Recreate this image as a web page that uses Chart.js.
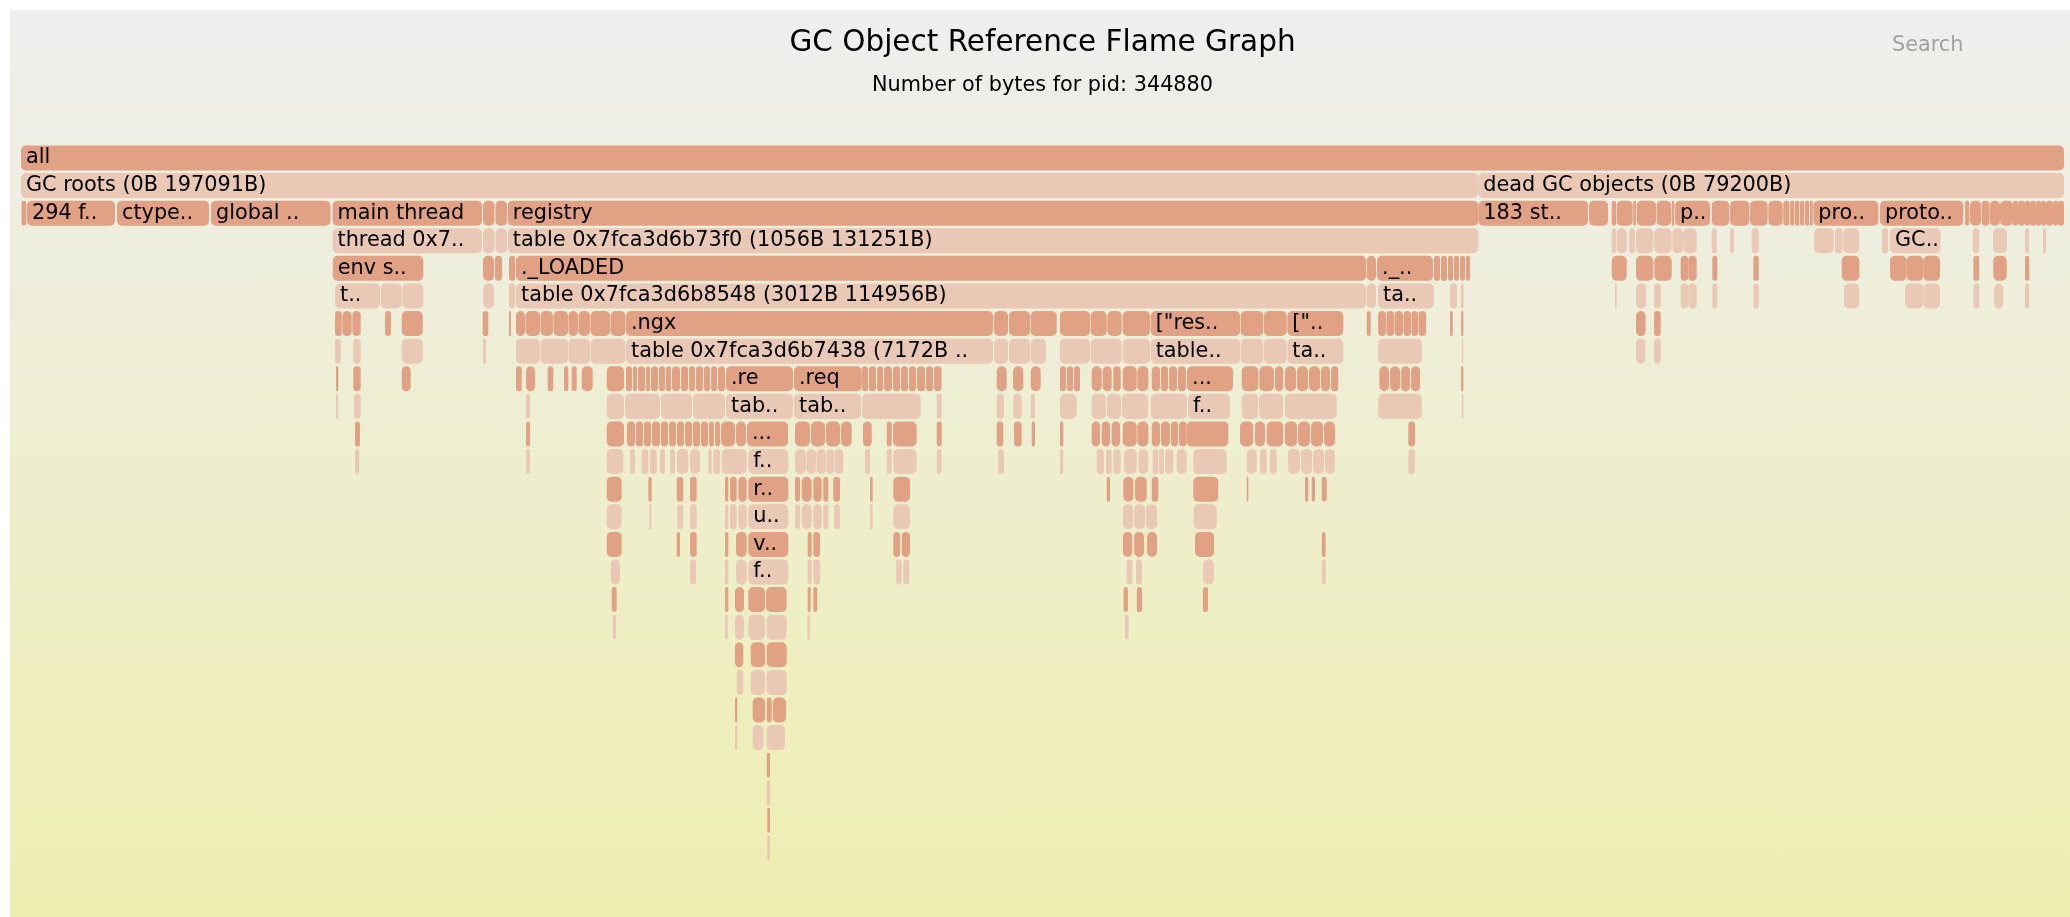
<!DOCTYPE html>
<html>
<head>
<meta charset="utf-8">
<title>GC Object Reference Flame Graph</title>
<script src="https://cdn.jsdelivr.net/npm/chart.js@4.4.1/dist/chart.umd.min.js"></script>
<style>
  html, body { margin: 0; padding: 0; background: #ffffff; overflow: hidden; }
  #bg { position: absolute; left: 10px; top: 10px; width: 2060px; height: 907px;
        background: linear-gradient(#eeeeee, #eeeeb0); }
  #flame { position: absolute; left: 0; top: 0; }
  #search { position: absolute; left: 1892px; top: 32px; line-height: 24px;
            font-family: "DejaVu Sans", Verdana, sans-serif; font-size: 20.8px; color: #a0a0a0; }
</style>
</head>
<body>
<div id="bg"></div>
<canvas id="flame" width="2070" height="917"></canvas>
<div id="search">Search</div>
<script>
// Flame graph data: one array per depth, each frame is [startByte, endByte, label]
const TOTAL_BYTES = 276291;

const level0 = [[0, 276291, 'all']];
const level1 = [[0, 197091, 'GC roots (0B 197091B)'], [197091, 276291, 'dead GC objects (0B 79200B)']];
const level2 = [
  [70, 740], [810, 12710, '294 f..'], [12980, 25420, 'ctype..'], [25700, 41860, 'global ..'],
  [42130, 62350, 'main thread'], [62480, 64030], [64170, 65730], [65840, 197091, 'registry'],
  [197091, 211920, '183 st..'], [212060, 214630], [215130, 215710], [215800, 217970], [218050, 218410],
  [218510, 221120], [221210, 223150], [223240, 223590], [223690, 228420, 'p..'], [228650, 231030],
  [231130, 233740], [233830, 236220], [236310, 238250], [238330, 239150], [239240, 239820],
  [239910, 240500], [240590, 241170], [241260, 241850], [241940, 242310], [242390, 251180, 'pro..'],
  [251410, 262670, 'proto..'], [262910, 263490], [263580, 265070], [265170, 266190], [266220, 267640],
  [267640, 269400], [269400, 270080], [270080, 271020], [271020, 271700], [271700, 272510],
  [272510, 273190], [273190, 273860], [273860, 274810], [274810, 275480], [275480, 276291]
];
const level3 = [
  [42130, 62340, 'thread 0x7..'], [62480, 64030], [64170, 65730],
  [65840, 197091, 'table 0x7fca3d6b73f0 (1056B 131251B)'],
  [215130, 215710], [215800, 217150], [217500, 218270], [218410, 220750], [220850, 223240],
  [223320, 224810], [224810, 226620], [228650, 229330], [231130, 231670], [234060, 235010],
  [242480, 245180], [245320, 246360], [246440, 248600], [251640, 252530], [252760, 259620, 'GC..'],
  [263950, 264840], [266690, 268580], [271020, 271560], [273460, 273860]
];
const level4 = [
  [42160, 54410, 'env s..'], [62480, 63970], [64100, 65050], [66000, 66850], [66940, 181900, '._LOADED'],
  [181990, 183250], [183390, 190960, '._..'], [191090, 191900], [192040, 192850], [192990, 193660],
  [193800, 194470], [194610, 195290], [195420, 195960],
  [215130, 217150], [218410, 220750], [220890, 223240], [224450, 225480], [225480, 226620],
  [228730, 229410], [234280, 235010], [246230, 248610], [252760, 255010], [255010, 257260],
  [257260, 259520], [264030, 264840], [266730, 268540], [271020, 271600]
];
const level5 = [
  [42470, 48550, 't..'], [48650, 51490], [51570, 54410], [62520, 63970], [66000, 66850],
  [66940, 181900, 'table 0x7fca3d6b8548 (3012B 114956B)'], [181990, 183250], [183520, 191090, 'ta..'],
  [193250, 194200], [194700, 195100],
  [215570, 215800], [218410, 219760], [220850, 221750], [224450, 225480], [225480, 226620],
  [228730, 229410], [234280, 235010], [246540, 248600], [254790, 257260], [257260, 259520],
  [264030, 264840], [266870, 268080], [271020, 271560]
];
const level6 = [
  [42470, 43370], [43450, 44720], [44810, 45940], [49230, 50040], [51490, 54330], [62440, 63200],
  [66000, 66270], [66940, 68160], [68230, 70190], [70260, 71950], [72020, 73980], [74040, 75330],
  [75400, 76950], [77020, 79660], [79730, 81750], [81820, 131450, '.ngx'], [131590, 133480],
  [133620, 136460], [136550, 140070], [140500, 144570], [144670, 146830], [146910, 148860],
  [149000, 152690], [152780, 164860, '["res..'], [164950, 168010], [168100, 171170],
  [171260, 178830, '[".. '.trim()], [181990, 182530], [183530, 184600], [184670, 185680], [185750, 186900],
  [186970, 187980], [188050, 188930], [189000, 190010], [193260, 193620], [194750, 195060],
  [218410, 219700], [220850, 221750]
];
const level7 = [
  [42470, 43240], [44940, 45940], [51490, 54330], [62480, 62890],
  [66940, 70190], [70260, 73980], [74040, 76950], [77020, 81750],
  [81820, 131450, 'table 0x7fca3d6b7438 (7172B ..'], [131590, 133480], [133620, 136460], [136550, 138620],
  [140500, 144570], [144670, 148860], [149000, 152690],
  [152780, 164860, 'table..'], [164950, 168010], [168100, 171170], [171260, 178830, 'ta..'],
  [183530, 189470], [194880, 195060],
  [218410, 219700], [220850, 221750]
];
const level8 = [
  [42600, 42910], [44940, 45940], [51490, 52700],
  [66940, 67720], [68300, 69510], [71230, 71990], [73440, 74020], [74480, 75150], [75830, 77320], [79210, 81550],
  [81820, 82630], [82770, 83310], [83440, 84390], [84530, 85070], [85200, 86150], [86280, 87090],
  [87230, 87910], [88040, 89120], [89260, 90210], [90340, 91150], [91290, 92230], [92370, 93180],
  [93320, 94130], [94260, 95210],
  [95340, 104400, '.re'], [104540, 113700, '.req'],
  [113740, 114550], [114680, 115630], [115770, 116580], [116710, 117790], [117930, 118880],
  [119010, 119960], [120090, 121040], [121180, 122260], [122390, 123340], [123470, 124490],
  [131950, 133300], [134160, 135550], [136550, 137900],
  [140510, 141330], [141460, 142270], [142410, 143220],
  [144800, 146150], [146290, 147500], [147720, 148720], [149000, 150890], [150970, 152460],
  [152920, 154040], [154170, 155120], [155260, 156340], [156470, 157550], [157690, 163910, '...'],
  [165090, 167330], [167470, 169450], [169590, 170710],
  [170940, 172430], [172570, 174060], [174190, 175680], [175810, 177030], [177170, 178150],
  [183700, 185010], [185150, 186500], [186640, 187850], [187990, 189210], [194750, 195060]
];
const level9 = [
  [42600, 42910], [45030, 45940], [68300, 68840], [79210, 81550],
  [81690, 86420], [86550, 90750], [90880, 95210], [95340, 104400, 'tab..'], [104540, 113600, 'tab..'],
  [113740, 121670], [123840, 124510],
  [131950, 132940], [134190, 135330], [136550, 137130], [140510, 142770],
  [144800, 146730], [146870, 148760], [148890, 152460], [152780, 157690], [157820, 163500, 'f..'],
  [165090, 167290], [167430, 170710], [170940, 177930], [183560, 189430], [194840, 195060]
];
const level10 = [
  [45170, 45850], [68300, 68840], [79210, 81550],
  [81960, 83040], [83170, 84120], [84250, 85200], [85340, 86420], [86550, 87500], [87640, 88580],
  [88720, 89660], [89800, 90750], [90880, 91830], [91960, 92910], [93050, 93720], [93860, 94530],
  [94670, 96560], [96700, 98050], [98180, 103730, '...'],
  [104680, 106700], [106840, 108730], [108870, 110760], [110900, 112340],
  [113870, 115050], [117080, 117750], [117930, 121130], [123840, 124510],
  [131950, 132840], [134290, 135330], [136690, 137130], [140510, 140960],
  [144800, 145920], [146150, 147270], [147500, 148630], [149000, 150890], [150970, 152460],
  [152920, 154040], [154170, 155390], [155520, 156470], [156610, 157640], [157650, 163280],
  [164860, 166650], [166880, 168240], [168470, 170710],
  [170940, 172570], [172710, 174320], [174460, 176080], [176220, 177700], [187620, 188530]
];
const level11 = [
  [45170, 45750], [68300, 68840], [79210, 81460], [82360, 83040], [83940, 84840], [85070, 85970],
  [86420, 87090], [87770, 88450], [88680, 90250], [90480, 91830], [92950, 93410], [93630, 94530],
  [94760, 98140], [98360, 103770, 'f..'],
  [104680, 106160], [106230, 107510], [107580, 108870], [108940, 109950], [110020, 111210],
  [114140, 114820], [117080, 117750], [117970, 121130], [123840, 124510], [132130, 132940], [140510, 140960],
  [145480, 146460], [146730, 147500], [147720, 148720], [149170, 150890], [151110, 152460],
  [153050, 153770], [153900, 154580], [154720, 155840], [156300, 157650], [158540, 163060],
  [165760, 167110], [167560, 168470], [168910, 169820],
  [171350, 172970], [173110, 174600], [174730, 176220], [176350, 177700], [187620, 188530]
];
const level12 = [
  [79210, 81240], [84840, 85300], [88680, 89570], [90480, 91380], [95210, 95660], [95890, 96790],
  [97010, 98140], [98360, 103770, 'r..'],
  [104680, 105350], [105580, 106930], [107150, 108290], [108500, 109180], [109850, 110760],
  [114820, 115180], [117970, 120230], [146830, 147270], [149070, 150430], [150660, 152240],
  [152920, 153810], [158540, 161920], [165760, 165980], [173650, 174090], [174550, 175000], [175910, 176580]
];
const level13 = [
  [79210, 81240], [84970, 85240], [88760, 89570], [90480, 91380], [95210, 95660], [95890, 96790],
  [97010, 98140], [98360, 103770, 'u..'],
  [104680, 105350], [105580, 106930], [107150, 108290], [108500, 109180], [109950, 110760],
  [114820, 115180], [117970, 120230], [149020, 150390], [150540, 152020], [152150, 153630], [158580, 161700]
];
const level14 = [
  [79210, 81240], [88680, 89120], [90480, 91380], [95210, 95660], [96700, 98140], [98360, 103770, 'v..'],
  [106390, 106930], [107150, 108060], [117970, 118880], [119110, 120230],
  [149020, 150290], [150540, 151880], [152290, 153630], [158770, 161340], [175910, 176430]
];
const level15 = [
  [79750, 81010], [90480, 91290], [95210, 95660], [96700, 98140], [98360, 103770, 'f..'],
  [106390, 106930], [107150, 108060], [118340, 119110], [119320, 120130],
  [149510, 150320], [150790, 151600], [159850, 161340], [175910, 176430]
];
const level16 = [
  [79890, 80560], [95210, 95660], [96560, 97780], [98360, 100620], [100750, 103550],
  [106390, 106800], [107150, 107690], [149100, 149700], [150900, 151600], [159850, 160530]
];
const level17 = [
  [80020, 80470], [95210, 95570], [96560, 97780], [98360, 100620], [100850, 103550],
  [106340, 106700], [149300, 149800]
];
const level18 = [[96560, 97680], [98680, 100620], [100850, 103550]];
const level19 = [[96790, 97680], [98680, 100620], [100850, 103550]];
const level20 = [[96560, 96870], [98950, 100620], [100850, 101520], [101660, 103460]];
const level21 = [[96560, 96870], [98950, 100390], [100850, 103320]];
const level22 = [[100850, 101290]];
const level23 = [[100850, 101290]];
const level24 = [[100930, 101290]];
const level25 = [[100930, 101290]];

const levels = [level0, level1, level2, level3, level4, level5, level6, level7, level8, level9,
  level10, level11, level12, level13, level14, level15, level16, level17, level18, level19,
  level20, level21, level22, level23, level24, level25];

const depthLabels = levels.map((_, i) => String(i));

// flatten into chart points
const frames = [];
levels.forEach((lvl, depth) => {
  lvl.forEach(f => frames.push({ x: [f[0], f[1]], y: String(depth), name: f[2] || '' }));
});

const DARK = '#e1a185';
const LIGHT = '#e9c9b5';
const FONT = '"DejaVu Sans", Verdana, sans-serif';

// draw the frame names inside the bars
const frameLabels = {
  id: 'frameLabels',
  afterDatasetsDraw(chart) {
    const ctx = chart.ctx;
    const meta = chart.getDatasetMeta(0);
    ctx.save();
    ctx.font = '20.8px ' + FONT;
    ctx.fillStyle = '#000000';
    ctx.textBaseline = 'alphabetic';
    ctx.textAlign = 'left';
    meta.data.forEach((bar, i) => {
      const f = frames[i];
      if (!f.name) return;
      const p = bar.getProps(['x', 'base', 'y', 'height'], true);
      const left = Math.min(p.x, p.base);
      ctx.fillText(f.name, left + 5, p.y - p.height / 2 + 18);
    });
    ctx.restore();
  }
};

Chart.defaults.font.family = FONT;

new Chart(document.getElementById('flame').getContext('2d'), {
  type: 'bar',
  data: {
    labels: depthLabels,
    datasets: [{
      data: frames,
      backgroundColor: ctx => (ctx.raw && Number(ctx.raw.y) % 2 === 1) ? LIGHT : DARK,
      borderWidth: 0,
      borderRadius: 5,
      borderSkipped: false,
      inflateAmount: 0,
      grouped: false,
      categoryPercentage: 1,
      barPercentage: 0.906
    }]
  },
  options: {
    indexAxis: 'y',
    responsive: false,
    animation: false,
    events: [],
    layout: { padding: { left: 21, right: 6, top: 0, bottom: 55.2 } },
    scales: {
      x: { type: 'linear', min: 0, max: TOTAL_BYTES, display: false },
      y: { type: 'category', display: false }
    },
    plugins: {
      legend: { display: false },
      tooltip: { enabled: false },
      title: {
        display: true,
        text: 'GC Object Reference Flame Graph',
        color: '#000000',
        font: { size: 29.5, weight: 'normal', lineHeight: 1.2 },
        padding: { top: 25.3, bottom: 0 }
      },
      subtitle: {
        display: true,
        text: 'Number of bytes for pid: 344880',
        color: '#000000',
        font: { size: 20.8, weight: 'normal', lineHeight: 1.2 },
        padding: { top: 12.8, bottom: 45.7 }
      }
    }
  },
  plugins: [frameLabels]
});
</script>
</body>
</html>
